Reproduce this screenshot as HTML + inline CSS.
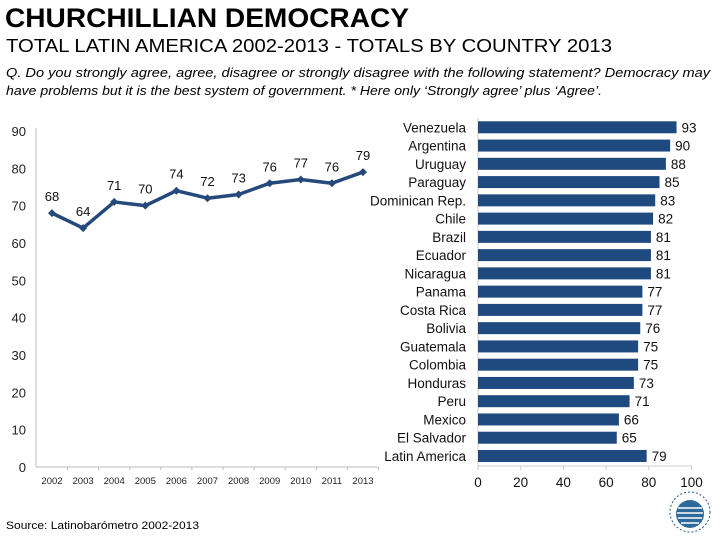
<!DOCTYPE html>
<html><head><meta charset="utf-8"><style>
body{margin:0;background:#fff;width:720px;height:540px;overflow:hidden}
svg{display:block;font-family:"Liberation Sans",sans-serif}
</style></head><body>
<svg id="s" width="720" height="540">
<text x="5" y="27" font-size="27" font-weight="bold" textLength="404" lengthAdjust="spacingAndGlyphs">CHURCHILLIAN DEMOCRACY</text>
<text x="6" y="52" font-size="18" textLength="606" lengthAdjust="spacingAndGlyphs">TOTAL LATIN AMERICA 2002-2013 - TOTALS BY COUNTRY 2013</text>
<text x="6" y="77" font-size="12.5" font-style="italic" textLength="704" lengthAdjust="spacingAndGlyphs">Q. Do you strongly agree, agree, disagree or strongly disagree with the following statement? Democracy may</text>
<text x="6" y="95" font-size="12.5" font-style="italic" textLength="596" lengthAdjust="spacingAndGlyphs">have problems but it is the best system of government. * Here only ‘Strongly agree’ plus ‘Agree’.</text>
<text x="6" y="529" font-size="11" textLength="193" lengthAdjust="spacingAndGlyphs">Source: Latinobarómetro 2002-2013</text>
<g id="line"></g>
<g id="bars"></g>
<g>
<circle cx="690" cy="512" r="20" fill="none" stroke="#2a5a8a" stroke-width="1" stroke-dasharray="2 2"/>
<circle cx="690" cy="514" r="14" fill="#2d6a9a"/>
<path d="M678 508h24M677 513h26M678 518h24M681 523h18" stroke="#fff" stroke-width="1.5"/>
</g>
</svg>
<script>
const years=['2002','2003','2004','2005','2006','2007','2008','2009','2010','2011','2013'];
const lineVals=[68,64,71,70,74,72,73,76,77,76,79];
const yTicks=[0,10,20,30,40,50,60,70,80,90];
const countries=['Venezuela','Argentina','Uruguay','Paraguay','Dominican Rep.','Chile','Brazil','Ecuador','Nicaragua','Panama','Costa Rica','Bolivia','Guatemala','Colombia','Honduras','Peru','Mexico','El Salvador','Latin America'];
const barVals=[93,90,88,85,83,82,81,81,81,77,77,76,75,75,73,71,66,65,79];
const xTicks=[0,20,40,60,80,100];
const NS='http://www.w3.org/2000/svg';
function mk(p,t,a,txt){const e=document.createElementNS(NS,t);for(const k in a)e.setAttribute(k,a[k]);if(txt!==undefined)e.textContent=txt;p.appendChild(e);return e;}
// line chart
const L=document.getElementById('line');
const ly=v=>467-v*(336/90);
const lx=i=>52+i*31.1;
mk(L,'line',{x1:36,y1:128,x2:36,y2:467,stroke:'#bbb'});
mk(L,'line',{x1:36,y1:467,x2:378,y2:467,stroke:'#bbb'});
yTicks.forEach(v=>{
 const t=mk(L,'text',{x:26,y:ly(v)+5,'font-size':13,'text-anchor':'end',fill:'#222'},v);
 
 
});
years.forEach((y,i)=>{
 const t=mk(L,'text',{x:lx(i),y:484,'font-size':9.5,'text-anchor':'middle',fill:'#222'},y);
 
 
 if(i<years.length){mk(L,'line',{x1:lx(i)+15.5,y1:467,x2:lx(i)+15.5,y2:470,stroke:'#bbb'});}
});
const pts=lineVals.map((v,i)=>lx(i)+','+ly(v)).join(' ');
const pl=mk(L,'polyline',{points:pts,fill:'none',stroke:'#25497a','stroke-width':3.5,'stroke-linejoin':'round'});


lineVals.forEach((v,i)=>{
 const x=lx(i),y=ly(v);
 const m=mk(L,'path',{d:`M${x} ${y-4}L${x+4} ${y}L${x} ${y+4}L${x-4} ${y}Z`,fill:'#25497a'});
 
 
 const t=mk(L,'text',{x:x,y:y-12,'font-size':13,'text-anchor':'middle',fill:'#111'},v);
 
 
});
// bar chart
const B=document.getElementById('bars');
const bx=v=>478+v*2.135;
const by=i=>127.3+i*18.26;
xTicks.forEach(v=>{
 const t=mk(B,'text',{x:bx(v),y:487,'font-size':13.5,'text-anchor':'middle',fill:'#111'},v);
 
 
 mk(B,'line',{x1:bx(v),y1:466,x2:bx(v),y2:470,stroke:'#ccc'});
});
mk(B,'line',{x1:478,y1:118,x2:478,y2:466,stroke:'#ccc'});
mk(B,'line',{x1:478,y1:466,x2:692,y2:466,stroke:'#ccc'});
countries.forEach((c,i)=>{
 const y=by(i);
 const r=mk(B,'rect',{x:478,y:y-6,width:bx(barVals[i])-478,height:12,fill:'#1f4a80'});
 
 
 const t=mk(B,'text',{x:466,y:y+5,'font-size':13.5,'text-anchor':'end',fill:'#111'},c);
 
 
 const vt=mk(B,'text',{x:bx(barVals[i])+5,y:y+5,'font-size':13.5,fill:'#111'},barVals[i]);
 
 
});
</script>
</body></html>
